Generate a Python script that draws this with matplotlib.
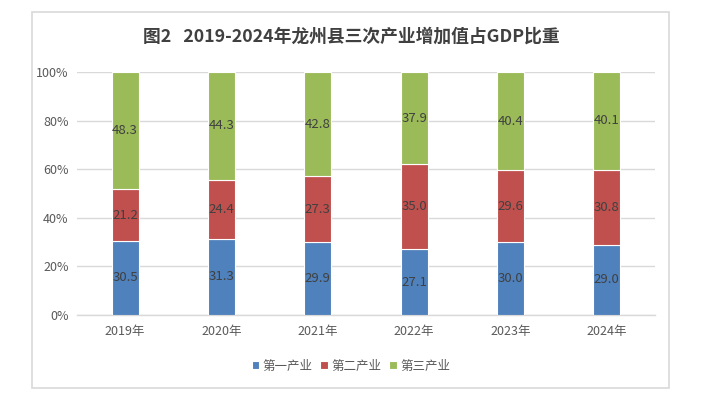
import matplotlib
matplotlib.use("Agg")
import matplotlib.pyplot as plt
import numpy as np
from matplotlib.patches import Rectangle

plt.rcParams['font.family'] = ['Noto Sans CJK SC', 'DejaVu Sans']

years = ['2019年', '2020年', '2021年', '2022年', '2023年', '2024年']
primary = [30.5, 31.3, 29.9, 27.1, 30.0, 29.0]
secondary = [21.2, 24.4, 27.3, 35.0, 29.6, 30.8]
tertiary = [48.3, 44.3, 42.8, 37.9, 40.4, 40.1]
series_names = ['第一产业', '第二产业', '第三产业']
colors = ['#4f81bd', '#c0504d', '#9bbb59']

fig = plt.figure(figsize=(7.05, 3.99), dpi=100)
# outer chart border
fig.patches.append(Rectangle((32 / 705, 1 - 388 / 399), (669 - 32) / 705, (388 - 12) / 399,
                             transform=fig.transFigure, fill=False,
                             edgecolor='#d9d9d9', linewidth=1.2))

ax = fig.add_axes([77 / 705, 1 - 315 / 399, (655 - 77) / 705, (315 - 72) / 399])

x = np.arange(len(years))
bottom = np.zeros(len(years))
for vals, name, col in zip([primary, secondary, tertiary], series_names, colors):
    vals = np.array(vals)
    ax.bar(x, vals, 0.28, bottom=bottom, color=col, edgecolor='white',
           linewidth=0.8, label=name, zorder=3)
    for xi, b, v in zip(x, bottom, vals):
        ax.text(xi, b + v / 2, f'{v:.1f}', ha='center', va='center',
                fontsize=9.5, color='#404040', zorder=4)
    bottom += vals

ax.set_xlim(-0.5, len(years) - 0.5)
ax.set_ylim(0, 100)
ax.set_yticks(np.arange(0, 101, 20))
ax.set_yticklabels([f'{v}%' for v in range(0, 101, 20)])
ax.set_xticks(x)
ax.set_xticklabels(years)
ax.tick_params(axis='both', length=0, labelsize=9, colors='#595959')
ax.tick_params(axis='y', pad=6)
ax.tick_params(axis='x', pad=7)
ax.yaxis.grid(True, color='#d9d9d9', linewidth=1, zorder=0)
for s in ['top', 'right', 'left']:
    ax.spines[s].set_visible(False)
ax.spines['bottom'].set_color('#d9d9d9')
ax.spines['bottom'].set_linewidth(1)

fig.text(351 / 705, 1 - 37 / 399, '图2   2019-2024年龙州县三次产业增加值占GDP比重',
         ha='center', va='center', fontsize=12.8, fontweight='bold', color='#404040')

ax.legend(loc='center', bbox_to_anchor=(351 / 705, 1 - 366 / 399),
          bbox_transform=fig.transFigure, ncol=3, frameon=False,
          fontsize=9, labelcolor='#595959', handlelength=0.6, handleheight=0.6,
          handletextpad=0.3, columnspacing=0.6)

fig.savefig('out.png', dpi=100)
